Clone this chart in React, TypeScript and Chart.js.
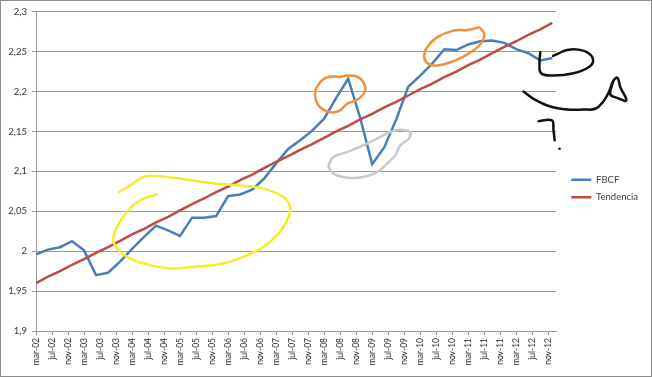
import React, { useEffect, useRef } from 'react';
import { Chart, registerables } from 'chart.js';

Chart.register(...registerables);

const MONTHS = ['ene', 'feb', 'mar', 'abr', 'may', 'jun', 'jul', 'ago', 'sep', 'oct', 'nov', 'dic'];

const quarters = [
  'mar-02', 'jun-02', 'sep-02', 'dic-02', 'mar-03', 'jun-03', 'sep-03', 'dic-03',
  'mar-04', 'jun-04', 'sep-04', 'dic-04', 'mar-05', 'jun-05', 'sep-05', 'dic-05',
  'mar-06', 'jun-06', 'sep-06', 'dic-06', 'mar-07', 'jun-07', 'sep-07', 'dic-07',
  'mar-08', 'jun-08', 'sep-08', 'dic-08', 'mar-09', 'jun-09', 'sep-09', 'dic-09',
  'mar-10', 'jun-10', 'sep-10', 'dic-10', 'mar-11', 'jun-11', 'sep-11', 'dic-11',
  'mar-12', 'jun-12', 'sep-12', 'dic-12',
];

const fbcf = [
  1.996, 2.002, 2.005, 2.0125, 2.001, 1.970, 1.973, 1.987,
  2.003, 2.018, 2.032, 2.026, 2.019, 2.042, 2.042, 2.044,
  2.069, 2.071, 2.077, 2.091, 2.110, 2.128, 2.139, 2.151,
  2.166, 2.192, 2.216, 2.167, 2.109, 2.130, 2.165, 2.206,
  2.220, 2.235, 2.253, 2.252, 2.259, 2.263, 2.264, 2.261,
  2.253, 2.248, 2.239, 2.242,
];

const tendencia = [
  1.960, 1.968, 1.975, 1.983, 1.990, 1.998, 2.005, 2.013,
  2.021, 2.028, 2.036, 2.043, 2.051, 2.059, 2.066, 2.074,
  2.081, 2.089, 2.096, 2.104, 2.112, 2.119, 2.127, 2.134,
  2.142, 2.150, 2.157, 2.165, 2.172, 2.180, 2.187, 2.195,
  2.203, 2.210, 2.218, 2.225, 2.233, 2.240, 2.248, 2.256,
  2.263, 2.271, 2.278, 2.286,
];

const tickLabels = [
  'mar-02', 'jul-02', 'nov-02', 'mar-03', 'jul-03', 'nov-03', 'mar-04', 'jul-04', 'nov-04',
  'mar-05', 'jul-05', 'nov-05', 'mar-06', 'jul-06', 'nov-06', 'mar-07', 'jul-07', 'nov-07',
  'mar-08', 'jul-08', 'nov-08', 'mar-09', 'jul-09', 'nov-09', 'mar-10', 'jul-10', 'nov-10',
  'mar-11', 'jul-11', 'nov-11', 'mar-12', 'jul-12', 'nov-12',
];

const yTicks = [1.9, 1.95, 2, 2.05, 2.1, 2.15, 2.2, 2.25, 2.3];

// Hand-drawn marks (months since mar-02, value)
const yellowX = [30.2, 26, 22.7, 20.2, 19.3, 20.6, 23.5, 28.5, 33.5, 37.7, 41.8, 46.8, 51.8, 56.8, 60.6, 63.1, 63.5, 61.8, 56.8, 50.2, 43.5, 36, 30.2, 26.8, 23.5, 20.8];
const yellowY = [2.0713, 2.0638, 2.0491, 2.0304, 2.0138, 2.0013, 1.9909, 1.9825, 1.9784, 1.9796, 1.9813, 1.9846, 1.9929, 2.0054, 2.0221, 2.0429, 2.0554, 2.0679, 2.0784, 2.0825, 2.0854, 2.0909, 2.0938, 2.0929, 2.0825, 2.0741];

const orange1X = [75.2, 72.7, 71, 69.75, 70.6, 73.5, 76, 77.7, 80.6, 82.25, 81.8, 80.2, 77.7, 75.6];
const orange1Y = [2.2188, 2.2179, 2.2116, 2.1991, 2.1825, 2.1741, 2.1763, 2.1846, 2.1909, 2.2013, 2.2116, 2.2188, 2.22, 2.2179];

const orange2X = [110.6, 107.7, 104.3, 100.2, 97.7, 97, 98.1, 100.2, 103.5, 106.4, 109.3, 111.4, 112, 111];
const orange2Y = [2.2804, 2.2771, 2.2763, 2.2679, 2.2554, 2.2429, 2.2346, 2.2325, 2.2366, 2.2429, 2.2513, 2.2616, 2.2721, 2.2796];

const grayX = [73.1, 74.3, 77.7, 81.8, 85.2, 88.5, 91, 93.5, 93.1, 91, 89.75, 87.7, 85.2, 81.8, 77.7, 74.3, 73.1];
const grayY = [2.1075, 2.1179, 2.1241, 2.1325, 2.1409, 2.1491, 2.1521, 2.1491, 2.1409, 2.1325, 2.12, 2.1096, 2.0991, 2.0929, 2.0921, 2.0971, 2.1054];

const black1X = [126, 125.8, 126.2, 129.3, 134.3, 138.1, 139.2, 138.1, 135.6, 132.7, 130.6, 129.2];
const black1Y = [2.2491, 2.2366, 2.2229, 2.22, 2.2229, 2.2304, 2.2388, 2.2479, 2.2525, 2.2521, 2.2479, 2.2446];

const black2X = [121.8, 124.3, 128.5, 132.7, 136.8, 139.75, 141.8, 143.1, 144.3, 145.3, 146, 147.5, 145.2, 143.5, 143.9, 144.3];
const black2Y = [2.2, 2.1909, 2.1813, 2.1775, 2.1775, 2.1784, 2.1879, 2.1991, 2.2138, 2.2171, 2.2054, 2.1888, 2.1921, 2.1963, 2.2075, 2.2138];

const black3X = [125.6, 128.9, 129.3, 129.6];
const black3Y = [2.1629, 2.1638, 2.1513, 2.1388];

const dotX = [130.8];
const dotY = [2.1284];

function monthOffset(label: string): number {
  const [m, y] = label.split('-');
  return (Number(y) - 2) * 12 + MONTHS.indexOf(m) - 2;
}

function labelForOffset(v: number): string {
  const found = tickLabels.find((l) => monthOffset(l) === v);
  return found || '';
}

function pts(xs: number[], ys: number[]) {
  return xs.map((x, i) => ({ x, y: ys[i] }));
}

function scribble(xs: number[], ys: number[], color: string, width: number) {
  return {
    label: '',
    data: pts(xs, ys),
    borderColor: color,
    backgroundColor: color,
    borderWidth: width,
    pointRadius: 0,
    tension: 0.4,
    clip: false,
    order: 0,
    borderCapStyle: 'round',
    borderJoinStyle: 'round',
  };
}

export default function App() {
  const ref = useRef<HTMLCanvasElement | null>(null);

  useEffect(() => {
    if (!ref.current) return;
    Chart.defaults.font.family = 'Lato';
    Chart.defaults.font.size = 9.5;
    Chart.defaults.color = '#333333';
    const grid = '#9a9a9a';

    const chart = new Chart(ref.current, {
      type: 'line',
      data: {
        datasets: [
          {
            label: 'FBCF',
            data: fbcf.map((v, i) => ({ x: monthOffset(quarters[i]), y: v })),
            borderColor: '#4a7ebb',
            backgroundColor: '#4a7ebb',
            borderWidth: 2.5,
            pointRadius: 0,
            tension: 0,
            order: 2,
          },
          {
            label: 'Tendencia',
            data: tendencia.map((v, i) => ({ x: monthOffset(quarters[i]), y: v })),
            borderColor: '#be4b48',
            backgroundColor: '#be4b48',
            borderWidth: 2.5,
            pointRadius: 0,
            tension: 0,
            order: 1,
          },
          scribble(yellowX, yellowY, '#f2ee2c', 2.5),
          scribble(orange1X, orange1Y, '#f0913a', 2.5),
          scribble(orange2X, orange2Y, '#f0913a', 2.5),
          scribble(grayX, grayY, '#c9c9c9', 2.5),
          scribble(black1X, black1Y, '#111111', 2.5),
          scribble(black2X, black2Y, '#111111', 2.5),
          scribble(black3X, black3Y, '#111111', 2.5),
          {
            label: '',
            data: pts(dotX, dotY),
            borderColor: '#111111',
            backgroundColor: '#111111',
            pointRadius: 1.3,
            borderWidth: 0,
            showLine: false,
            clip: false,
            order: 0,
          },
        ] as any,
      },
      options: {
        responsive: false,
        animation: false,
        events: [],
        layout: { padding: { top: 10, right: 3, bottom: 10, left: 0 } },
        plugins: {
          tooltip: { enabled: false },
          legend: {
            position: 'right',
            align: 'center',
            labels: {
              usePointStyle: true,
              pointStyle: 'line',
              pointStyleWidth: 20,
              padding: 8,
              color: '#404040',
              font: { size: 9.5, family: 'Lato' },
              filter: (item: any) => item.datasetIndex < 2,
              sort: (a: any, b: any) => a.datasetIndex - b.datasetIndex,
            },
          },
        },
        scales: {
          x: {
            type: 'linear',
            min: 0,
            max: 130,
            afterBuildTicks: (scale: any) => {
              scale.ticks = tickLabels.map((l) => ({ value: monthOffset(l) }));
            },
            afterFit: (scale: any) => {
              scale.height = 35;
            },
            ticks: {
              autoSkip: false,
              minRotation: 90,
              maxRotation: 90,
              padding: 3,
              callback: (v: any) => labelForOffset(Number(v)),
              font: { size: 8.5, family: 'Lato' },
            },
            grid: { drawOnChartArea: false, drawTicks: true, tickLength: 4, color: grid },
            border: { display: true, color: grid },
          },
          y: {
            type: 'linear',
            min: 1.9,
            max: 2.3,
            afterBuildTicks: (scale: any) => {
              scale.ticks = yTicks.map((v) => ({ value: v }));
            },
            afterFit: (scale: any) => {
              scale.width = 35;
            },
            ticks: {
              padding: 5,
              callback: (v: any) => String(Number(Number(v).toFixed(2))).replace('.', ','),
              font: { size: 9.5, family: 'Lato' },
            },
            grid: { color: grid, tickLength: 4 },
            border: { display: true, color: grid },
          },
          pad: {
            type: 'linear',
            position: 'right',
            display: true,
            min: 0,
            max: 1,
            ticks: { display: false },
            grid: { display: false, drawTicks: false },
            border: { display: false },
            afterFit: (scale: any) => {
              scale.width = 7;
            },
          },
        },
      } as any,
    });
    return () => chart.destroy();
  }, []);

  return (
    <div
      style={{
        position: 'fixed',
        left: 0,
        top: 0,
        width: 652,
        height: 377,
        boxSizing: 'border-box',
        border: '1px solid #8c8c8c',
        background: '#ffffff',
      }}
    >
      <canvas ref={ref} width={650} height={375} style={{ display: 'block', width: 650, height: 375 }} />
    </div>
  );
}
